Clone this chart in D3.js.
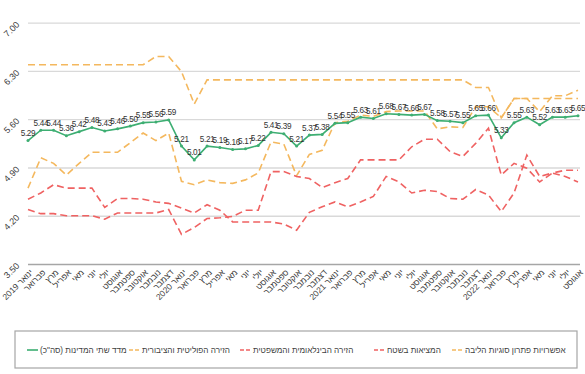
<!DOCTYPE html>
<html>
<head>
<meta charset="utf-8">
<script src="https://cdn.jsdelivr.net/npm/d3@7"></script>
<style>
  body { margin: 0; background: #fff; }
  text { font-family: "Liberation Sans", Arial, sans-serif; }
</style>
</head>
<body>
<svg id="chart" width="585" height="374"></svg>
<script>
// month labels, Jan 2019 .. Aug 2022
const months = [
  "ינואר 2019","פברואר","מרץ","אפריל","מאי","יוני","יולי","אוגוסט","ספטמבר","אוקטובר","נובמבר","דצמבר",
  "ינואר 2020","פברואר","מרץ","אפריל","מאי","יוני","יולי","אוגוסט","ספטמבר","אוקטובר","נובמבר","דצמבר",
  "ינואר 2021","פברואר","מרץ","אפריל","מאי","יוני","יולי","אוגוסט","ספטמבר","אוקטובר","נובמבר","דצמבר",
  "ינואר 2022","פברואר","מרץ","אפריל","מאי","יוני","יולי","אוגוסט"
];

const yTicks = [3.5, 4.2, 4.9, 5.6, 6.3, 7.0];

// two-state index (total)
const totalIndex = [
  5.29,5.44,5.44,5.36,5.42,5.48,5.43,5.46,5.50,5.55,5.56,5.59,
  5.21,5.01,5.21,5.19,5.16,5.17,5.22,5.41,5.39,5.21,5.37,5.38,
  5.54,5.55,5.63,5.61,5.68,5.67,5.66,5.67,5.58,5.57,5.55,5.65,
  5.66,5.33,5.55,5.63,5.52,5.63,5.63,5.65
];
// political and public arena
const politicalArena = [
  4.60,5.04,4.96,4.79,4.96,5.12,5.12,5.12,5.26,5.40,5.29,5.40,
  4.70,4.65,4.72,4.68,4.67,4.72,4.82,5.27,5.24,4.78,5.09,5.15,
  5.55,5.57,5.66,5.64,5.71,5.72,5.72,5.72,5.46,5.49,5.48,5.78,
  5.78,5.62,5.90,5.90,5.71,5.94,5.94,6.02
];
// international and legal arena
const intlArena = [
  4.29,4.23,4.23,4.20,4.20,4.20,4.15,4.24,4.24,4.24,4.24,4.29,
  3.93,4.03,4.16,4.17,4.19,4.28,4.28,4.84,4.84,4.77,4.74,4.61,
  4.68,4.74,5.01,5.01,5.01,5.01,5.20,5.31,5.31,5.13,5.06,5.25,
  5.47,4.79,4.96,4.89,4.69,4.82,4.86,4.86
];
// reality on the ground
const fieldReality = [
  4.44,4.53,4.65,4.60,4.60,4.60,4.32,4.45,4.45,4.44,4.40,4.38,
  4.31,4.24,4.36,4.28,4.11,4.11,4.11,4.11,4.08,3.99,4.25,4.33,
  4.40,4.33,4.40,4.48,4.77,4.69,4.53,4.57,4.55,4.45,4.44,4.58,
  4.50,4.26,4.53,5.08,4.77,4.82,4.77,4.69
];
// options for resolving core issues
const coreIssues = [
  6.39,6.39,6.39,6.39,6.39,6.39,6.39,6.39,6.39,6.39,6.51,6.51,
  6.29,5.82,6.17,6.17,6.17,6.17,6.17,6.17,6.17,6.17,6.17,6.17,
  6.17,6.17,6.17,6.17,6.17,6.17,6.17,6.17,6.17,6.17,6.17,6.06,
  6.06,5.62,5.90,5.90,5.90,5.90,5.90,5.90
];

const series = [
  {name: "מדד שתי המדינות (סה\"כ)\u200F", values: totalIndex, color: "#3dae72", dash: null},
  {name: "הזירה הפוליטית והציבורית", values: politicalArena, color: "#f4b85e", dash: "7,4"},
  {name: "הזירה הבינלאומית והמשפטית", values: intlArena, color: "#ef6262", dash: "7,4"},
  {name: "המציאות בשטח", values: fieldReality, color: "#ef6262", dash: "7,4"},
  {name: "אפשרויות פתרון סוגיות הליבה", values: coreIssues, color: "#f4b85e", dash: "7,4"}
];

const svg = d3.select("#chart");

let x = d3.scalePoint().domain(d3.range(months.length)).range([28, 578]);
let y = d3.scaleLinear().domain([3.5, 7]).range([264, 22.7]);

// grid + y labels
let yAxis = svg.append("g")
  .attr("transform", "translate(28,0)")
  .call(d3.axisLeft(y).tickValues(yTicks).tickSize(-552).tickFormat(d3.format(".2f")));
yAxis.select(".domain").remove();
yAxis.selectAll(".tick line")
  .attr("stroke", d => d === 3.5 ? "#a6a6a6" : "#d9d9d9")
  .attr("stroke-width", d => d === 3.5 ? 1.6 : 1.3);
yAxis.selectAll(".tick text")
  .attr("x", null).attr("dy", null)
  .attr("text-anchor", "end")
  .attr("transform", "translate(-8,2) rotate(-45)")
  .attr("fill", "#404040")
  .style("font-size", "9px");

// x labels
let xAxis = svg.append("g")
  .attr("transform", "translate(0,264)")
  .call(d3.axisBottom(x).tickSize(0).tickFormat(i => months[i]));
xAxis.select(".domain").remove();
xAxis.selectAll(".tick text")
  .attr("y", null).attr("dy", null)
  .attr("text-anchor", "end")
  .attr("transform", "translate(5,9) rotate(-45)")
  .attr("fill", "#404040")
  .style("font-size", "8.5px");

let line = d3.line()
  .x((d, i) => x(i))
  .y(d => y(d));

// draw dashed series first, total on top
series.slice(1).concat([series[0]]).forEach(s => {
  svg.append("path")
    .datum(s.values)
    .attr("fill", "none")
    .attr("stroke", s.color)
    .attr("stroke-width", 1.6)
    .attr("stroke-dasharray", s.dash)
    .attr("d", line);
});

// markers + labels on the total index
let total = series[0];
svg.selectAll("circle.pt")
  .data(total.values).enter().append("circle")
  .attr("class", "pt")
  .attr("cx", (d, i) => x(i))
  .attr("cy", d => y(d))
  .attr("r", 1.5)
  .attr("fill", total.color);

svg.selectAll("text.lbl")
  .data(total.values).enter().append("text")
  .attr("class", "lbl")
  .attr("x", (d, i) => x(i))
  .attr("y", d => y(d) - 4.5)
  .attr("text-anchor", "middle")
  .attr("fill", "#333")
  .style("font-family", "'Liberation Sans Narrow', 'Liberation Sans', sans-serif")
  .style("font-size", "8.2px")
  .style("letter-spacing", "-0.3px")
  .text(d => d.toFixed(2));

// legend
let legend = svg.append("g");
legend.append("rect")
  .attr("x", 15).attr("y", 331).attr("width", 562).attr("height", 37)
  .attr("fill", "#fff").attr("stroke", "#a6a6a6").attr("stroke-width", 1.2);

const legendX = [27, 129, 240, 374, 452];
let legendTexts = [];
series.forEach((s, i) => {
  let g = legend.append("g").attr("transform", "translate(" + legendX[i] + ",350)");
  g.append("line")
    .attr("x1", 0).attr("x2", 11).attr("y1", 0).attr("y2", 0)
    .attr("stroke", s.color).attr("stroke-width", 1.6)
    .attr("stroke-dasharray", s.dash ? "4,2" : null);
  legendTexts.push(g.append("text")
    .attr("x", 13).attr("y", 3.3)
    .attr("fill", "#404040")
    .style("font-size", "9.5px")
    .text(s.name));
});
// fit legend font so the labels are about as wide overall as in the original
const targetWidth = 84 + 86 + 107 + 53 + 100;
let measured = d3.sum(legendTexts, t => t.node().getComputedTextLength());
let fs = Math.min(10.5, 9.5 * targetWidth / measured);
legendTexts.forEach(t => t.style("font-size", fs + "px"));
</script>
</body>
</html>
